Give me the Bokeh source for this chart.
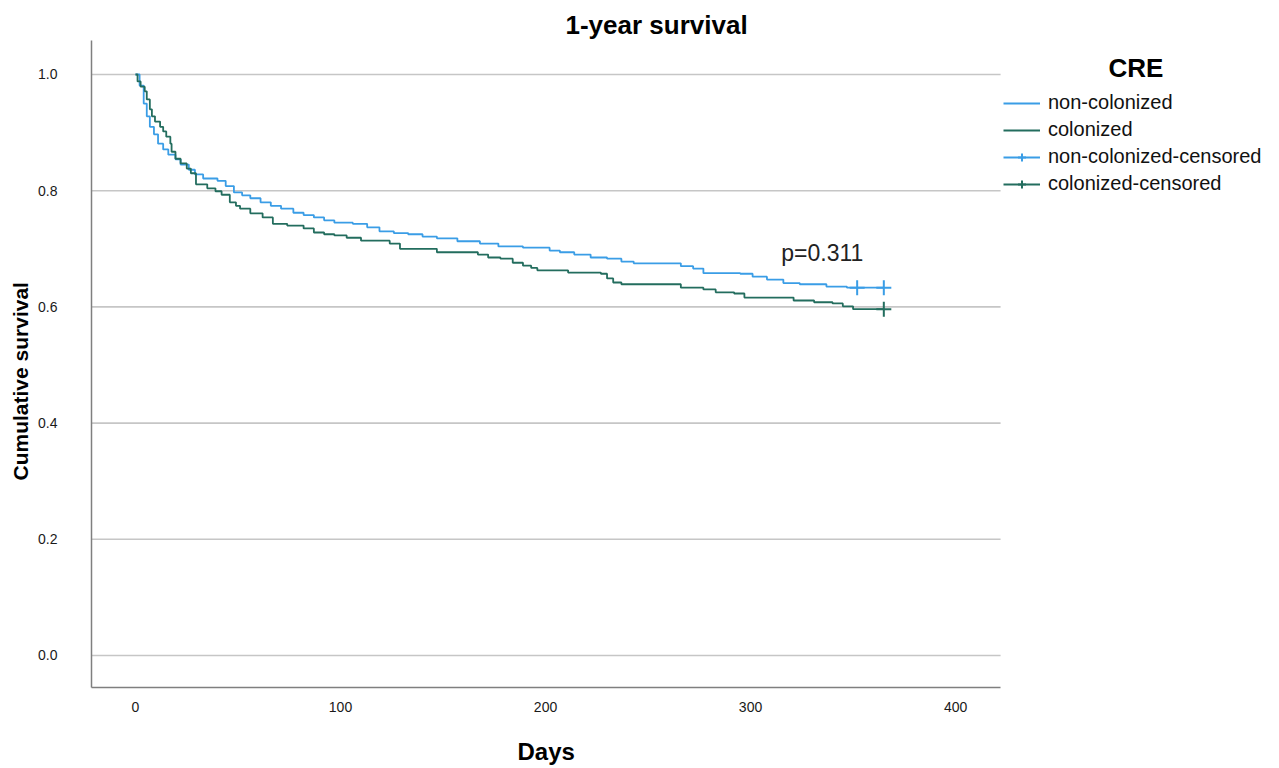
from bokeh.plotting import figure
from bokeh.models import Range1d, Legend, LegendItem, Label, Title, CustomJSTickFormatter
from bokeh.embed import file_html
from bokeh.resources import INLINE

# ---- data ----
noncol_days = [0, 2, 4, 5.5, 7, 9, 11, 13.5, 16, 19.5, 22, 26, 29, 33, 40, 44, 48, 52, 56,
               61, 66, 71, 77, 82, 87, 92, 97, 106, 113, 119, 126, 133, 140, 147, 157, 168,
               177, 189, 202, 207, 214, 222, 230, 237, 243, 266, 272, 277, 295, 301, 308,
               316, 324, 337, 347, 365]
noncol_surv = [1.0, 0.981, 0.950, 0.928, 0.910, 0.897, 0.881, 0.871, 0.862, 0.854, 0.845,
               0.836, 0.828, 0.821, 0.817, 0.808, 0.797, 0.792, 0.787, 0.780, 0.774, 0.769,
               0.762, 0.758, 0.754, 0.749, 0.745, 0.743, 0.737, 0.730, 0.727, 0.725, 0.721,
               0.718, 0.713, 0.709, 0.704, 0.702, 0.697, 0.694, 0.690, 0.685, 0.683, 0.678,
               0.675, 0.670, 0.666, 0.658, 0.657, 0.652, 0.647, 0.641, 0.639, 0.635, 0.633,
               0.633]

col_days = [0, 1, 2.5, 4.5, 5.5, 7, 8, 9.5, 12, 13.5, 15, 17, 17.6, 19.5, 22, 25, 27, 29.5,
            35, 39, 42, 46, 49, 51, 56, 62, 67, 74, 82, 87, 92, 97, 103, 110, 124, 129, 147,
            167, 172, 178, 184, 189, 193, 196, 211, 227, 230, 233, 237, 266, 277, 283, 292,
            297, 321, 331, 340, 345, 350, 365]
col_surv = [1.0, 0.988, 0.979, 0.971, 0.957, 0.940, 0.928, 0.919, 0.910, 0.902, 0.893, 0.881,
            0.867, 0.855, 0.847, 0.838, 0.830, 0.811, 0.804, 0.799, 0.793, 0.780, 0.774, 0.769,
            0.761, 0.754, 0.743, 0.740, 0.735, 0.728, 0.725, 0.723, 0.719, 0.714, 0.709, 0.700,
            0.694, 0.690, 0.685, 0.683, 0.676, 0.671, 0.667, 0.663, 0.659, 0.657, 0.649, 0.642,
            0.639, 0.633, 0.630, 0.625, 0.623, 0.616, 0.611, 0.608, 0.606, 0.601, 0.596, 0.596]

noncol_cens_days = [352, 365]
noncol_cens_surv = [0.633, 0.633]
col_cens_days = [365]
col_cens_surv = [0.596]

x_ticks = [0, 100, 200, 300, 400]
y_ticks = [0.0, 0.2, 0.4, 0.6, 0.8, 1.0]

BLUE = "#3a9de6"
GREEN = "#236d5e"
FONT = "Liberation Sans"

X_LO, X_HI = -21.46, 421.95          # visible extent of the axes box
p = figure(width=1279, height=768, output_backend="svg", toolbar_location=None,
           x_range=Range1d(X_LO, 558.0), y_range=Range1d(-0.0551, 1.0585),
           frame_width=1188, frame_height=647,
           min_border_left=91, min_border_right=0, min_border_top=40, min_border_bottom=81)

p.title.text = "1-year survival"
p.title.align = "left"
p.title.offset = 474
p.title.standoff = 2
p.title.text_font = FONT
p.title.text_font_size = "26px"
p.title.text_font_style = "bold"
p.title.text_color = "#000000"

p.outline_line_color = None
p.grid.visible = False

# horizontal reference lines at the y ticks, limited to the axes box
p.segment(x0=X_LO, x1=X_HI, y0=y_ticks, y1=y_ticks, line_color="#c6c6c6", line_width=1.6)

p.xaxis.ticker = x_ticks
p.yaxis.ticker = y_ticks
p.yaxis.formatter = CustomJSTickFormatter(code="return tick.toFixed(1);")
p.xaxis.bounds = (X_LO, X_HI)

for ax in (p.xaxis[0], p.yaxis[0]):
    ax.axis_line_color = "#7f7f7f"
    ax.axis_line_width = 1.5
    ax.major_tick_line_color = None
    ax.minor_tick_line_color = None
    ax.major_label_text_font = FONT
    ax.major_label_text_font_size = "14px"
    ax.major_label_text_color = "#1a1a1a"

p.xaxis.major_label_standoff = 8
p.yaxis.major_label_standoff = 28

# axis titles placed as side titles so they can be centred on the visible axes box
x_title = Title(text="Days", align="left", offset=426, vertical_align="top", standoff=46,
                text_font=FONT, text_font_size="24px", text_font_style="bold",
                text_color="#000000")
p.add_layout(x_title, "below")
y_title = Title(text="Cumulative survival", align="left", offset=207, standoff=8,
                text_font=FONT, text_font_size="21px", text_font_style="bold",
                text_color="#000000")
p.add_layout(y_title, "left")

r_nc = p.step(noncol_days, noncol_surv, mode="after", line_color=BLUE, line_width=1.8)
r_c = p.step(col_days, col_surv, mode="after", line_color=GREEN, line_width=1.8)
r_ncc = p.scatter(noncol_cens_days, noncol_cens_surv, marker="cross", size=15,
                  line_color=BLUE, line_width=2)
r_cc = p.scatter(col_cens_days, col_cens_surv, marker="cross", size=15,
                 line_color=GREEN, line_width=2)

legend = Legend(items=[
    LegendItem(label="non-colonized", renderers=[r_nc]),
    LegendItem(label="colonized", renderers=[r_c]),
    LegendItem(label="non-colonized-censored", renderers=[r_nc, r_ncc]),
    LegendItem(label="colonized-censored", renderers=[r_c, r_cc]),
], location=(912, 492), border_line_color=None, background_fill_alpha=0,
    padding=0, margin=0, spacing=4, glyph_width=37, glyph_height=20,
    label_standoff=8, label_text_font=FONT, label_text_font_size="20px",
    label_text_color="#111111")
p.add_layout(legend, "center")

p.add_layout(Label(x=488, y=1.012, text="CRE", text_align="center", text_baseline="middle",
                   text_font=FONT, text_font_size="26px", text_font_style="bold",
                   text_color="#000000"))
p.add_layout(Label(x=315, y=0.692, text="p=0.311", text_align="left", text_baseline="middle",
                   text_font=FONT, text_font_size="23px", text_color="#222222"))

open("out.html", "w").write(file_html(p, INLINE))
